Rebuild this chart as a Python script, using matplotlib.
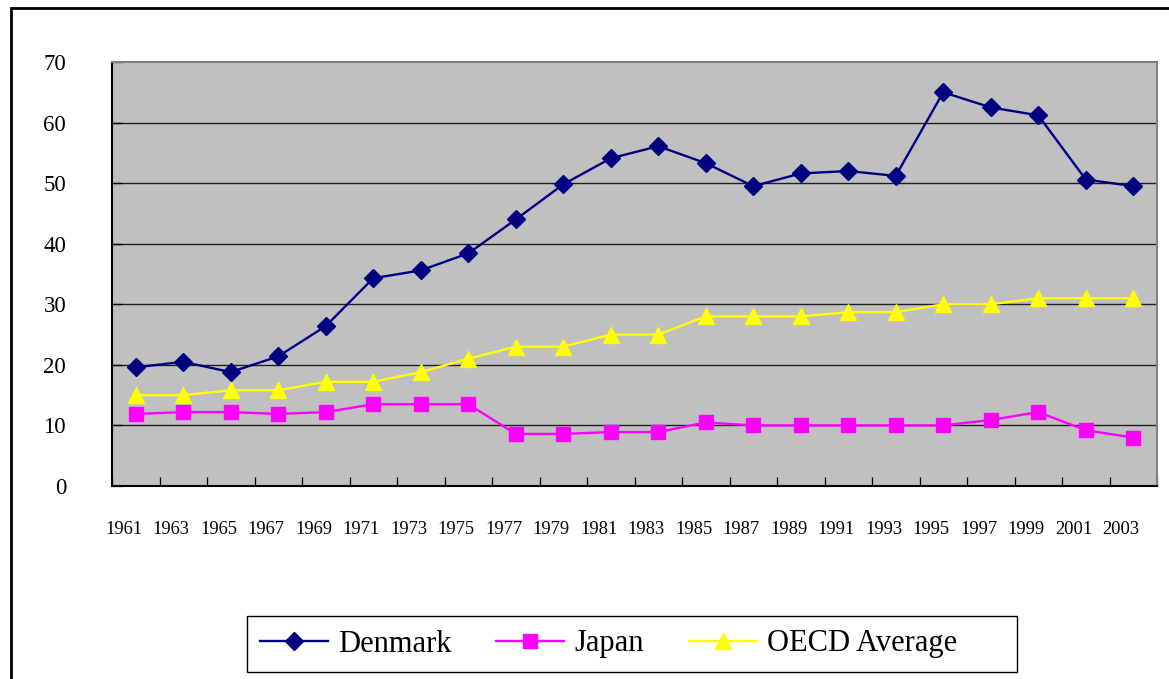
import matplotlib
matplotlib.use("Agg")
import matplotlib.pyplot as plt
import numpy as np
from matplotlib.patches import Rectangle
from matplotlib.transforms import ScaledTranslation

years = [str(y) for y in range(1961, 2004, 2)]
denmark = [19.6, 20.5, 18.8, 21.4, 26.4, 34.3, 35.6, 38.4, 44.0, 49.8, 54.1,
           56.1, 53.3, 49.5, 51.6, 52.0, 51.2, 65.0, 62.5, 61.2, 50.6, 49.5]
japan = [11.9, 12.2, 12.2, 11.9, 12.2, 13.5, 13.5, 13.5, 8.6, 8.6, 8.9,
         8.9, 10.5, 10.0, 10.0, 10.0, 10.0, 10.0, 10.9, 12.2, 9.2, 8.0]
oecd = [15.0, 15.0, 15.8, 15.8, 17.2, 17.2, 18.8, 21.0, 23.0, 23.0, 25.0,
        25.0, 28.0, 28.0, 28.0, 28.7, 28.7, 30.0, 30.0, 31.0, 31.0, 31.0]
series_names = ["Denmark", "Japan", "OECD Average"]
yticks = [0, 10, 20, 30, 40, 50, 60, 70]

plt.rcParams['font.family'] = ['Liberation Serif', 'DejaVu Serif']

W, H = 1169, 679
fig = plt.figure(figsize=(W / 100, H / 100), dpi=100)
ax = fig.add_axes([112 / W, 1 - 486 / H, (1157 - 112) / W, (486 - 62) / H])
ax.set_facecolor('#C0C0C0')

x = np.arange(len(years))
l1, = ax.plot(x, denmark, color='#000080', lw=1.7, marker='D', ms=8.8,
              markeredgecolor='#000080', zorder=3)
l2, = ax.plot(x, japan, color='#FF00FF', lw=1.7, marker='s', ms=10.2,
              markeredgecolor='#FF00FF', zorder=3)
l3, = ax.plot(x, oecd, color='#FFFF00', lw=1.7, marker='^', ms=11.8,
              markeredgecolor='#FFFF00', zorder=3)

ax.set_xlim(-0.5, len(years) - 0.5)
ax.set_ylim(0, 70)
ax.set_yticks(yticks)
ax.set_yticklabels([str(v) for v in yticks])
for v in yticks[1:-1]:
    ax.axhline(v, color='#202020', lw=1.0, zorder=1)

ax.set_xticks(np.arange(-0.5, len(years), 1))
ax.set_xticklabels([])
ax.set_xticks(x, minor=True)
ax.set_xticklabels(years, minor=True)
ax.tick_params(axis='x', which='major', direction='in', length=6.5, width=0.9, color='black')
ax.tick_params(axis='x', which='minor', length=0, pad=25, labelsize=13.3)
ax.tick_params(axis='y', direction='in', length=7, width=0.9, color='black', pad=33, labelsize=16.5)
for lab in ax.get_xticklabels(minor=True):
    lab.set_transform(lab.get_transform() + ScaledTranslation(-0.12, 0, fig.dpi_scale_trans))

for s in ['left', 'bottom']:
    ax.spines[s].set_color('black')
    ax.spines[s].set_linewidth(1.5)
for s in ['top', 'right']:
    ax.spines[s].set_color('#808080')
    ax.spines[s].set_linewidth(1.5)

# outer chart border
fig.patches.append(Rectangle((10.5 / W, -0.1), 1.2, 1.1 - 8 / H, transform=fig.transFigure,
                             fill=False, edgecolor='black', lw=2, clip_on=False))
# legend frame
fig.patches.append(Rectangle((247 / W, 1 - 672 / H), (1017 - 247) / W, (672 - 616) / H,
                             transform=fig.transFigure, fill=False, edgecolor='black', lw=1))
fig.legend([l1, l2, l3], series_names, loc='center left',
           bbox_to_anchor=(260 / W, 1 - 644 / H), ncol=3, frameon=False,
           fontsize=22, handlelength=2.22, handletextpad=0.33, columnspacing=1.47,
           borderpad=0, borderaxespad=0)

fig.savefig('out.png', dpi=100, facecolor='white')
